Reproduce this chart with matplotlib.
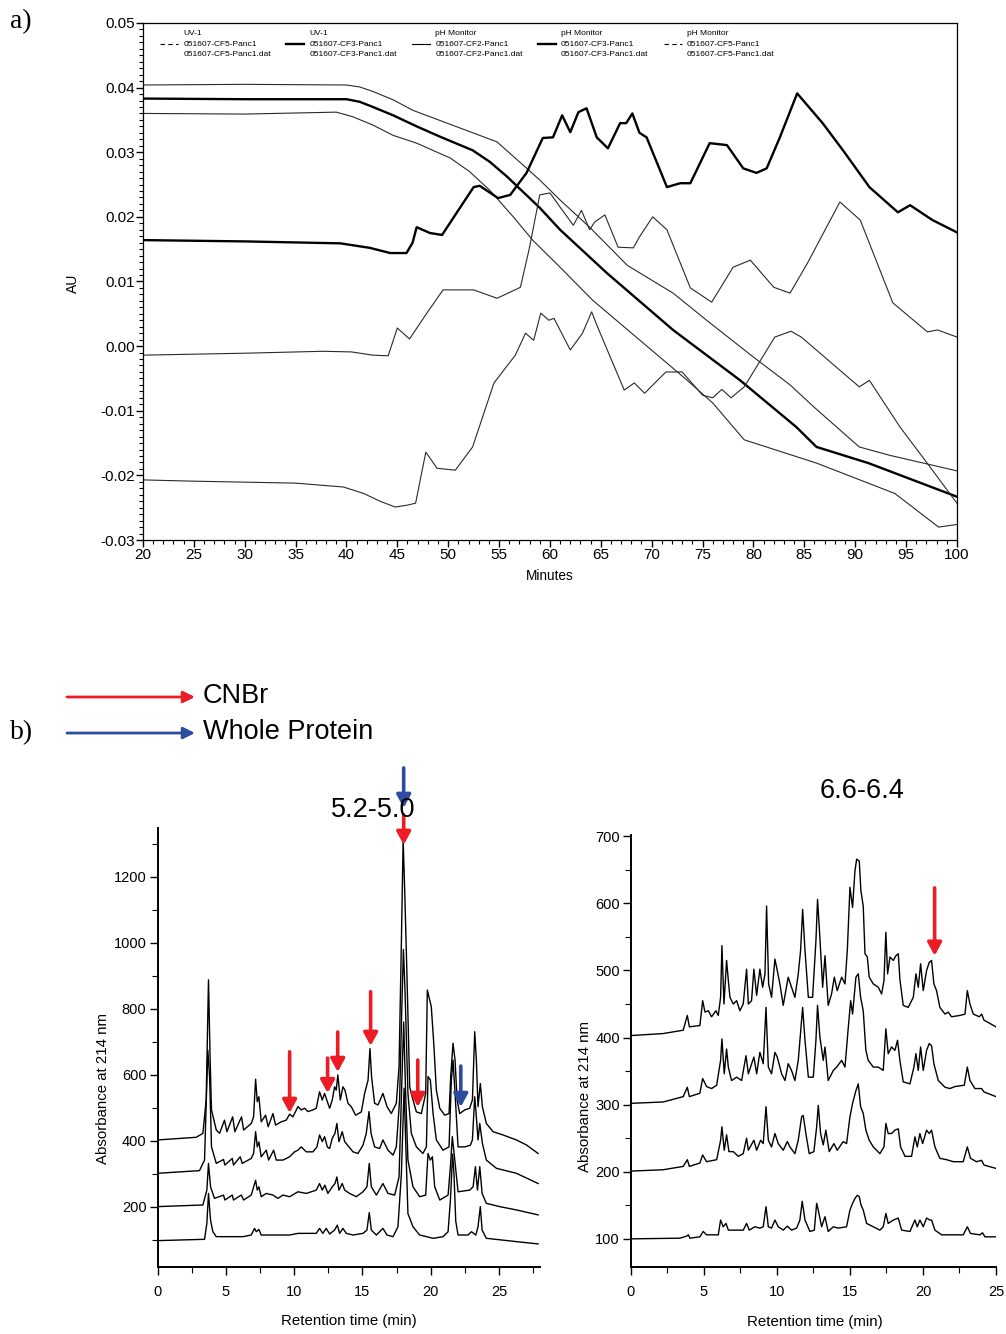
import matplotlib
matplotlib.use("Agg")
import matplotlib.pyplot as plt
from matplotlib.lines import Line2D
from matplotlib.patches import FancyArrowPatch
from matplotlib.ticker import MultipleLocator

plt.rcParams["font.family"] = ["Liberation Sans", "DejaVu Sans"]
SERIF = ["Liberation Serif", "DejaVu Serif"]
RED = "#ec1c24"
BLUE = "#2e4c9f"

# ---------------- panel a: FPLC traces (minutes, AU) ----------------
UV_CF3_T = [20, 30, 39.4, 42.3, 44.3, 45.9, 46.5, 46.9, 48.2, 49.4, 51.2, 52.5, 53.1, 54.9, 56.1,
            57.7, 59.3, 60.3, 61.2, 62, 62.8, 63.6, 64.6, 65.7, 66.9, 67.5, 68.1, 68.8, 69.5,
            71.5, 72.8, 73.8, 75.7, 77.4, 79, 80.3, 81.3, 82.6, 84.3, 86.8, 88.8, 91.4, 94.2,
            95.4, 97.6, 100]
UV_CF3_AU = [0.0164, 0.0162, 0.0159, 0.0152, 0.0144, 0.0144, 0.0160, 0.0184, 0.0175, 0.0172,
             0.0215, 0.0246, 0.0248, 0.0229, 0.0234, 0.0268, 0.0322, 0.0323, 0.0357, 0.0331,
             0.0362, 0.0368, 0.0323, 0.0306, 0.0345, 0.0345, 0.0360, 0.0330, 0.0323, 0.0246,
             0.0252, 0.0252, 0.0314, 0.0311, 0.0275, 0.0268, 0.0275, 0.0323, 0.0391, 0.0345,
             0.0303, 0.0246, 0.0207, 0.0218, 0.0195, 0.0176]

UV_CF5_T = [20, 30, 37.7, 40.5, 42.6, 44.1, 45.0, 46.2, 47.9, 49.5, 51.2, 52.5, 54.8, 57.1, 58.0,
            59.0, 60.0, 61.0, 62.3, 63.1, 63.9, 64.4, 65.4, 66.7, 68.2, 68.8, 70.1, 71.5, 73.8,
            75.9, 78.0, 79.7, 82.0, 83.6, 85.3, 88.5, 90.5, 93.7, 97.1, 98.1, 100]
UV_CF5_AU = [-0.0014, -0.0011, -0.0008, -0.0009, -0.0014, -0.0015, 0.0028, 0.0011, 0.0051,
             0.0087, 0.0087, 0.0087, 0.0074, 0.0091, 0.0153, 0.0234, 0.0237, 0.0215, 0.0187,
             0.0210, 0.0180, 0.0192, 0.0203, 0.0153, 0.0152, 0.0169, 0.0200, 0.0180, 0.0090,
             0.0068, 0.0122, 0.0133, 0.0091, 0.0082, 0.0128, 0.0223, 0.0195, 0.0067, 0.0022,
             0.0025, 0.0014]

UV_LOW_T = [20, 25, 35, 39.7, 41.7, 43.3, 44.8, 46.0, 46.8, 47.8, 48.9, 50.7, 52.4, 54.5, 56.6,
            57.6, 58.4, 59.1, 59.9, 60.4, 62.0, 63.2, 64.1, 64.7, 67.3, 68.3, 69.3, 71.4, 73.0,
            75.0, 76.0, 76.9, 77.8, 79.1, 82.1, 83.7, 84.7, 90.4, 91.4, 94.4, 97.5, 100]
UV_LOW_AU = [-0.0207, -0.0209, -0.0212, -0.0218, -0.0228, -0.0240, -0.0249, -0.0246, -0.0243,
             -0.0164, -0.0189, -0.0192, -0.0156, -0.0057, -0.0014, 0.0020, 0.0009, 0.0051,
             0.0040, 0.0043, -0.0006, 0.0020, 0.0053, 0.0029, -0.0068, -0.0057, -0.0073,
             -0.0040, -0.0040, -0.0076, -0.0080, -0.0067, -0.0080, -0.0063, 0.0014, 0.0023,
             0.0014, -0.0063, -0.0053, -0.0125, -0.0190, -0.0243]

PH_TOP_T = [20, 30, 40, 41.3, 42.6, 44.6, 46.5, 50.9, 54.8, 56.8, 59, 61, 63.9, 67.6, 72.1, 75.4,
            80, 83.6, 86, 90.4, 93.4, 100]
PH_TOP_AU = [0.0404, 0.0405, 0.0404, 0.0401, 0.0394, 0.0381, 0.0365, 0.0339, 0.0316, 0.0288,
             0.0257, 0.0226, 0.0184, 0.0125, 0.0082, 0.0040, -0.0017, -0.0060, -0.0095,
             -0.0156, -0.0169, -0.0193]

PH_MID_T = [20, 30, 40, 41.3, 42.6, 44.6, 46.9, 49.2, 52.4, 54.1, 55.8, 59, 61, 65.6, 72.1, 78.7,
            84.2, 86.2, 91.3, 100]
PH_MID_AU = [0.0383, 0.0382, 0.0382, 0.0378, 0.0370, 0.0357, 0.0340, 0.0324, 0.0303, 0.0285,
             0.0262, 0.0214, 0.0180, 0.0113, 0.0025, -0.0053, -0.0125, -0.0156, -0.0181,
             -0.0233]

PH_LOW_T = [20, 30, 39, 40.6, 42.6, 44.6, 46.9, 50.2, 52.1, 54.1, 56.4, 58.3, 61, 64.2, 73.5, 76,
            79.1, 86.2, 93.9, 98.2, 100]
PH_LOW_AU = [0.0360, 0.0359, 0.0362, 0.0355, 0.0342, 0.0326, 0.0314, 0.0291, 0.0270, 0.0241,
             0.0200, 0.0164, 0.0122, 0.0071, -0.0053, -0.0088, -0.0145, -0.0181, -0.0228,
             -0.0280, -0.0276]

LEGEND_SOURCES = ["UV-1", "UV-1", "pH Monitor", "pH Monitor", "pH Monitor"]
LEGEND_RUNS = ["051607-CF5-Panc1", "051607-CF3-Panc1", "051607-CF2-Panc1",
               "051607-CF3-Panc1", "051607-CF5-Panc1"]

# ---------------- panel b left: fraction 5.2-5.0 (min, mAU) ----------------
L1_T = [0, 2.83, 3.32, 3.56, 3.73, 3.85, 3.95, 4.3, 4.54, 4.9, 5.08, 5.5, 5.66, 6.15, 6.3, 6.86,
        7.03, 7.18, 7.3, 7.42, 7.59, 7.91, 8.1, 8.45, 8.64, 9.06, 9.42, 9.67, 9.91, 10.28, 10.52,
        10.77, 11.01, 11.38, 11.62, 11.86, 12.06, 12.23, 12.43, 12.6, 12.79, 12.96, 13.08, 13.2,
        13.38, 13.57, 13.72, 13.94, 14.18, 14.5, 14.92, 15.16, 15.41, 15.55, 15.67, 15.89, 16.14,
        16.5, 16.8, 17.11, 17.48, 17.68, 17.85, 17.98, 18.1, 18.26, 18.46, 18.7, 18.95, 19.31,
        19.63, 19.75, 20.04, 20.22, 20.41, 20.66, 21.02, 21.34, 21.46, 21.63, 21.78, 21.93,
        22.12, 22.49, 22.85, 23.05, 23.22, 23.34, 23.46, 23.63, 23.78, 24.07, 24.56, 25.3,
        26.27, 27, 27.86]
L1_V = [403, 411, 423, 524, 888, 645, 494, 433, 423, 463, 428, 473, 428, 473, 433, 453, 473, 587,
        519, 534, 458, 478, 443, 483, 448, 458, 463, 481, 473, 504, 494, 499, 489, 494, 499, 549,
        524, 544, 519, 499, 524, 564, 554, 600, 524, 564, 554, 514, 504, 478, 488, 544, 584, 680,
        594, 514, 509, 544, 504, 483, 514, 625, 1000, 1312, 1150, 900, 564, 524, 488, 483, 544,
        857, 807, 696, 554, 499, 478, 483, 594, 696, 645, 524, 483, 494, 499, 524, 731, 645, 504,
        574, 504, 453, 428, 418, 403, 388, 362]

L2_T = [0, 3.07, 3.44, 3.68, 3.81, 3.95, 4.3, 4.83, 4.93, 5.47, 5.56, 6.05, 6.2, 6.86, 7.03,
        7.18, 7.3, 7.42, 7.59, 7.96, 8.13, 8.5, 8.69, 9.18, 9.67, 10.03, 10.28, 10.52, 10.89,
        11.38, 11.67, 11.86, 12.06, 12.23, 12.43, 12.6, 12.79, 12.99, 13.13, 13.28, 13.52, 13.7,
        14.01, 14.31, 14.67, 15.04, 15.28, 15.48, 15.63, 15.89, 16.26, 16.5, 16.87, 17.24, 17.48,
        17.72, 17.88, 18.0, 18.12, 18.33, 18.58, 18.95, 19.43, 19.68, 19.8, 19.97, 20.17, 20.41,
        20.9, 21.34, 21.51, 21.63, 21.78, 22.0, 22.49, 22.9, 23.05, 23.22, 23.34, 23.46, 23.59,
        23.78, 24.07, 24.81, 26.27, 27.86]
L2_V = [302, 310, 342, 675, 595, 382, 332, 344, 327, 347, 327, 352, 332, 347, 362, 428, 382, 397,
        352, 372, 342, 372, 342, 342, 352, 367, 372, 382, 367, 367, 382, 418, 398, 413, 382, 377,
        408, 423, 453, 398, 428, 398, 382, 367, 362, 387, 423, 489, 423, 382, 377, 403, 372, 357,
        382, 524, 800, 980, 850, 544, 423, 382, 362, 382, 595, 585, 483, 403, 372, 382, 584, 645,
        544, 382, 382, 387, 403, 534, 473, 403, 453, 393, 342, 317, 302, 271]

L3_T = [0, 3.32, 3.61, 3.73, 3.88, 4.17, 4.83, 4.93, 5.47, 5.56, 6.13, 6.3, 6.86, 7.18, 7.3,
        7.42, 7.59, 7.96, 8.45, 8.81, 9.18, 9.67, 10.28, 10.89, 11.62, 11.86, 12.06, 12.25,
        12.47, 12.79, 12.99, 13.13, 13.28, 13.52, 13.7, 14.06, 14.55, 15.04, 15.33, 15.5, 15.65,
        16.02, 16.5, 16.87, 17.36, 17.68, 17.9, 18.02, 18.15, 18.33, 18.7, 19.19, 19.63, 19.8,
        19.97, 20.12, 20.29, 20.66, 21.27, 21.44, 21.58, 21.76, 22.0, 22.85, 23.1, 23.27, 23.42,
        23.59, 23.76, 24.07, 25.05, 26.27, 27.86]
L3_V = [201, 206, 251, 332, 261, 226, 236, 221, 236, 221, 236, 221, 236, 281, 251, 261, 231,
        241, 236, 226, 236, 231, 246, 241, 251, 271, 251, 266, 241, 261, 271, 291, 251, 271, 251,
        241, 231, 246, 261, 332, 261, 236, 271, 241, 236, 291, 600, 760, 560, 342, 261, 231, 236,
        362, 342, 352, 261, 221, 236, 322, 413, 342, 246, 251, 261, 322, 251, 322, 241, 211, 201,
        191, 176]

L4_T = [0, 3.44, 3.61, 3.73, 3.88, 4.05, 4.3, 6.25, 6.86, 7.1, 7.23, 7.42, 7.59, 8.45, 9.67,
        10.28, 11.62, 11.86, 12.1, 12.35, 12.6, 12.96, 13.16, 13.33, 13.57, 13.82, 14.31, 15.04,
        15.33, 15.5, 15.65, 16.02, 16.5, 16.8, 17.24, 17.6, 17.85, 18.05, 18.15, 18.33, 18.7,
        19.19, 20.17, 20.9, 21.27, 21.44, 21.6, 21.7, 21.83, 22.0, 22.73, 22.98, 23.3, 23.46,
        23.63, 23.76, 24.07, 26.27, 27.86]
L4_V = [98, 102, 150, 241, 160, 125, 110, 110, 115, 135, 125, 132, 115, 115, 115, 120, 120, 135,
        120, 135, 118, 130, 145, 120, 135, 120, 115, 120, 130, 183, 130, 115, 135, 115, 110, 140,
        300, 560, 420, 180, 140, 115, 105, 110, 125, 221, 360, 300, 157, 115, 115, 125, 115, 140,
        201, 130, 105, 95, 88]

# arrows: (retention time, tail value, head value)
LEFT_RED_ARROWS = [(9.67, 670, 485), (12.45, 651, 545), (13.19, 730, 609), (15.6, 852, 688),
                   (19.05, 645, 503), (18.02, 1388, 1297)]
LEFT_BLUE_ARROWS = [(22.2, 627, 503), (18.02, 1530, 1409)]

# ---------------- panel b right: fraction 6.6-6.4 ----------------
R1_T = [0, 2.21, 3.58, 3.86, 4.0, 4.72, 4.91, 5.07, 5.3, 5.52, 5.82, 5.98, 6.14, 6.23, 6.37,
        6.55, 6.67, 6.78, 7.01, 7.24, 7.46, 7.69, 7.92, 8.04, 8.26, 8.42, 8.61, 8.83, 9.02, 9.18,
        9.29, 9.43, 9.63, 9.86, 10.02, 10.2, 10.43, 10.77, 11.0, 11.23, 11.46, 11.62, 11.76,
        11.92, 12.15, 12.44, 12.67, 12.78, 12.94, 13.13, 13.29, 13.51, 13.74, 13.93, 14.13,
        14.43, 14.66, 14.82, 15.0, 15.18, 15.34, 15.46, 15.64, 15.75, 15.91, 16.03, 16.19,
        16.32, 16.6, 16.94, 17.17, 17.33, 17.46, 17.58, 17.74, 17.97, 18.15, 18.31, 18.42,
        18.65, 18.99, 19.34, 19.52, 19.68, 19.84, 20.02, 20.25, 20.43, 20.59, 20.75, 20.93,
        21.16, 21.51, 21.73, 21.96, 22.53, 22.88, 23.04, 23.22, 23.45, 23.86, 24.02, 24.18, 25.0]
R1_V = [403, 406, 411, 433, 416, 418, 455, 438, 440, 431, 440, 433, 460, 537, 450, 515, 485,
        460, 450, 455, 440, 450, 502, 450, 455, 502, 463, 502, 475, 495, 596, 480, 460, 517, 500,
        480, 448, 490, 475, 460, 495, 530, 591, 530, 460, 460, 544, 606, 549, 475, 522, 448, 465,
        490, 470, 490, 480, 530, 624, 594, 648, 666, 663, 619, 596, 525, 520, 490, 480, 475, 465,
        485, 557, 495, 520, 515, 522, 525, 487, 448, 445, 460, 495, 475, 510, 470, 500, 512, 515,
        480, 470, 445, 435, 438, 431, 433, 435, 470, 450, 435, 431, 435, 426, 416]

R2_T = [0, 2.21, 3.58, 3.86, 4.0, 4.72, 4.91, 5.18, 5.52, 5.87, 6.14, 6.23, 6.39, 6.55, 6.67,
        6.89, 7.24, 7.58, 7.88, 8.04, 8.42, 8.61, 8.83, 9.06, 9.25, 9.41, 9.63, 9.86, 10.02,
        10.32, 10.55, 10.77, 11.0, 11.23, 11.46, 11.76, 11.92, 12.15, 12.49, 12.67, 12.78, 12.94,
        13.17, 13.29, 13.51, 13.86, 14.09, 14.43, 14.66, 14.89, 15.05, 15.18, 15.41, 15.57,
        15.73, 15.91, 16.09, 16.25, 16.6, 16.94, 17.28, 17.46, 17.62, 17.85, 18.08, 18.26, 18.42,
        18.65, 19.11, 19.38, 19.52, 19.68, 19.84, 20.02, 20.25, 20.43, 20.59, 20.75, 21.05,
        21.51, 21.85, 22.19, 22.83, 23.04, 23.22, 23.56, 24.02, 24.18, 25.0]
R2_V = [302, 304, 312, 326, 312, 317, 339, 327, 324, 329, 366, 398, 346, 383, 356, 336, 341,
        336, 373, 346, 371, 346, 378, 361, 445, 356, 346, 378, 371, 346, 336, 361, 351, 336, 366,
        445, 396, 341, 341, 396, 448, 401, 366, 386, 336, 351, 356, 366, 356, 416, 455, 435, 490,
        495, 460, 440, 381, 366, 356, 356, 351, 413, 376, 386, 381, 396, 366, 334, 331, 356, 376,
        351, 386, 351, 381, 391, 388, 361, 336, 326, 324, 327, 329, 356, 336, 324, 324, 319, 312]

R3_T = [0, 2.21, 3.58, 3.86, 4.0, 4.72, 4.91, 5.18, 5.87, 6.14, 6.23, 6.39, 6.55, 6.71, 7.01,
        7.35, 7.69, 7.92, 8.04, 8.42, 8.61, 8.88, 9.06, 9.25, 9.41, 9.63, 9.86, 10.09, 10.43,
        10.71, 10.89, 11.23, 11.46, 11.69, 11.8, 11.98, 12.21, 12.53, 12.72, 12.83, 12.99, 13.17,
        13.35, 13.58, 13.9, 14.13, 14.54, 14.77, 15.0, 15.18, 15.41, 15.57, 15.73, 15.91, 16.09,
        16.32, 16.6, 17.05, 17.33, 17.46, 17.62, 17.85, 18.08, 18.31, 18.47, 18.77, 19.22,
        19.45, 19.61, 19.79, 19.98, 20.25, 20.43, 20.59, 20.82, 21.16, 21.62, 22.08, 22.76,
        23.04, 23.26, 23.67, 24.02, 24.18, 25.0]
R3_V = [201, 203, 208, 218, 208, 213, 225, 215, 218, 247, 267, 232, 255, 230, 230, 223, 227,
        250, 232, 247, 232, 247, 242, 297, 247, 237, 257, 242, 232, 245, 237, 227, 247, 282, 284,
        257, 227, 230, 267, 299, 257, 240, 262, 230, 242, 232, 245, 242, 282, 302, 321, 331, 297,
        287, 262, 247, 237, 227, 237, 272, 257, 257, 262, 264, 237, 223, 223, 252, 237, 257, 242,
        262, 257, 262, 237, 220, 218, 215, 215, 237, 220, 215, 217, 210, 205]

R4_T = [0, 3.35, 3.81, 3.93, 4.04, 4.72, 4.95, 5.18, 5.98, 6.14, 6.32, 6.51, 6.67, 7.24, 7.69,
        7.92, 8.1, 8.49, 8.83, 9.06, 9.25, 9.41, 9.63, 9.86, 10.09, 10.43, 10.71, 11.0, 11.35,
        11.57, 11.73, 11.92, 12.26, 12.56, 12.72, 12.83, 13.06, 13.29, 13.51, 13.86, 14.2, 14.77,
        15.0, 15.18, 15.34, 15.5, 15.64, 15.75, 15.91, 16.14, 16.6, 17.05, 17.28, 17.46, 17.62,
        17.97, 18.31, 18.54, 19.11, 19.45, 19.61, 19.79, 20.02, 20.25, 20.48, 20.59, 20.82,
        21.28, 21.85, 22.76, 23.04, 23.26, 23.9, 24.08, 24.25, 25.0]
R4_V = [100, 101, 104, 106, 101, 103, 111, 106, 106, 128, 118, 123, 113, 113, 113, 123, 113,
        118, 116, 118, 148, 118, 116, 128, 118, 113, 119, 113, 116, 128, 156, 128, 111, 113, 153,
        143, 118, 133, 111, 118, 116, 118, 143, 153, 160, 165, 163, 151, 143, 123, 118, 113, 118,
        138, 123, 128, 131, 113, 111, 128, 118, 128, 118, 131, 128, 128, 113, 106, 106, 106, 118,
        108, 106, 109, 103, 103]

RIGHT_RED_ARROWS = [(20.8, 623, 522)]


def style_ticks(ax, size, major_len, minor_len, pad):
    ax.tick_params(which="major", direction="out", length=major_len, width=1.0,
                   labelsize=size, pad=pad)
    ax.tick_params(which="minor", direction="out", length=minor_len, width=0.8)


def draw_arrows(ax, arrows, color):
    for t, tail, head in arrows:
        ax.annotate("", xy=(t, head), xytext=(t, tail), annotation_clip=False,
                    arrowprops=dict(arrowstyle="-|>,head_length=0.55,head_width=0.3",
                                    color=color, lw=2.6, mutation_scale=14,
                                    shrinkA=0, shrinkB=0))


fig = plt.figure(figsize=(10.06, 13.34), dpi=100)

# ---- panel a ----
ax_a = fig.add_axes([0.1421, 0.5952, 0.8091, 0.3876])
thin = dict(color="#2a2a2a", lw=0.8)
thick = dict(color="black", lw=1.7)
ax_a.plot(PH_TOP_T, PH_TOP_AU, **thin)
ax_a.plot(PH_MID_T, PH_MID_AU, **thick)
ax_a.plot(PH_LOW_T, PH_LOW_AU, **thin)
ax_a.plot(UV_CF5_T, UV_CF5_AU, **thin)
ax_a.plot(UV_LOW_T, UV_LOW_AU, **thin)
ax_a.plot(UV_CF3_T, UV_CF3_AU, **thick)
ax_a.set_xlim(20, 100)
ax_a.set_ylim(-0.03, 0.05)
ax_a.xaxis.set_major_locator(MultipleLocator(5))
ax_a.xaxis.set_minor_locator(MultipleLocator(1))
ax_a.yaxis.set_major_locator(MultipleLocator(0.01))
ax_a.yaxis.set_minor_locator(MultipleLocator(0.001))
ax_a.yaxis.set_major_formatter(plt.FuncFormatter(lambda v, p: f"{v:.2f}"))
style_ticks(ax_a, 11, 5, 3, 1)
for sp in ax_a.spines.values():
    sp.set_linewidth(0.9)

handles = [Line2D([], [], color="black", lw=0.8, ls=(0, (4, 3))),
           Line2D([], [], color="black", lw=1.7),
           Line2D([], [], color="black", lw=0.8),
           Line2D([], [], color="black", lw=1.7),
           Line2D([], [], color="black", lw=0.8, ls=(0, (4, 3)))]
labels = [f"{s}\n{r}\n{r}.dat" for s, r in zip(LEGEND_SOURCES, LEGEND_RUNS)]
leg = ax_a.legend(handles, labels, ncol=5, loc="upper left", bbox_to_anchor=(0.017, 0.993),
                  frameon=False, fontsize=6, handlelength=2.2, handletextpad=0.6,
                  columnspacing=1.8, borderaxespad=0.1, borderpad=0.3)
for txt in leg.get_texts():
    txt.set_linespacing(1.75)

fig.text(0.0726, 0.7879, "AU", rotation=90, ha="center", va="center", fontsize=10)
fig.text(0.5467, 0.5682, "Minutes", ha="center", va="center", fontsize=9.8)
fig.text(0.010, 0.9835, "a)", ha="left", va="center", fontsize=20, family=SERIF)

# ---- panel b ----
fig.text(0.010, 0.4505, "b)", ha="left", va="center", fontsize=20, family=SERIF)
for y, color, text in [(0.4775, RED, "CNBr"), (0.4505, BLUE, "Whole Protein")]:
    fig.add_artist(FancyArrowPatch(
        (0.0666, y), (0.1938, y), transform=fig.transFigure,
        arrowstyle="-|>,head_length=0.5,head_width=0.25", color=color, lw=2.0,
        mutation_scale=14, shrinkA=0, shrinkB=0))
    fig.text(0.2018, y + 0.001, text, ha="left", va="center", fontsize=19.5)

ax_l = fig.add_axes([0.1566, 0.0502, 0.3802, 0.3291])
for t, v in [(L4_T, L4_V), (L3_T, L3_V), (L2_T, L2_V), (L1_T, L1_V)]:
    ax_l.plot(t, v, color="black", lw=1.0)
ax_l.set_xlim(0, 28)
ax_l.set_ylim(18, 1348)
ax_l.xaxis.set_major_locator(MultipleLocator(5))
ax_l.xaxis.set_minor_locator(MultipleLocator(2.5))
ax_l.yaxis.set_major_locator(MultipleLocator(200))
ax_l.yaxis.set_minor_locator(MultipleLocator(100))
draw_arrows(ax_l, LEFT_RED_ARROWS, RED)
draw_arrows(ax_l, LEFT_BLUE_ARROWS, BLUE)

ax_r = fig.add_axes([0.6272, 0.0502, 0.3628, 0.3239])
for t, v in [(R4_T, R4_V), (R3_T, R3_V), (R2_T, R2_V), (R1_T, R1_V)]:
    ax_r.plot(t, v, color="black", lw=1.0)
ax_r.set_xlim(0, 25)
ax_r.set_ylim(58, 702)
ax_r.xaxis.set_major_locator(MultipleLocator(5))
ax_r.xaxis.set_minor_locator(MultipleLocator(2.5))
ax_r.yaxis.set_major_locator(MultipleLocator(100))
ax_r.yaxis.set_minor_locator(MultipleLocator(50))
draw_arrows(ax_r, RIGHT_RED_ARROWS, RED)

for ax in (ax_l, ax_r):
    ax.spines[["top", "right"]].set_visible(False)
    for sp in ax.spines.values():
        sp.set_linewidth(1.4)
    style_ticks(ax, 10.5, 6, 4, 2)
    ax.tick_params(axis="x", pad=7)

fig.text(0.3708, 0.3928, "5.2-5.0", ha="center", va="center", fontsize=19.5)
fig.text(0.8569, 0.4070, "6.6-6.4", ha="center", va="center", fontsize=19.5)
fig.text(0.1024, 0.1844, "Absorbance at 214 nm", rotation=90, ha="center", va="center",
         fontsize=10.8)
fig.text(0.5815, 0.1777, "Absorbance at 214 nm", rotation=90, ha="center", va="center",
         fontsize=10.8)
fig.text(0.3469, 0.0097, "Retention time (min)", ha="center", va="center", fontsize=10.8)
fig.text(0.8101, 0.0090, "Retention time (min)", ha="center", va="center", fontsize=10.8)

fig.savefig("out.png", dpi=100)
